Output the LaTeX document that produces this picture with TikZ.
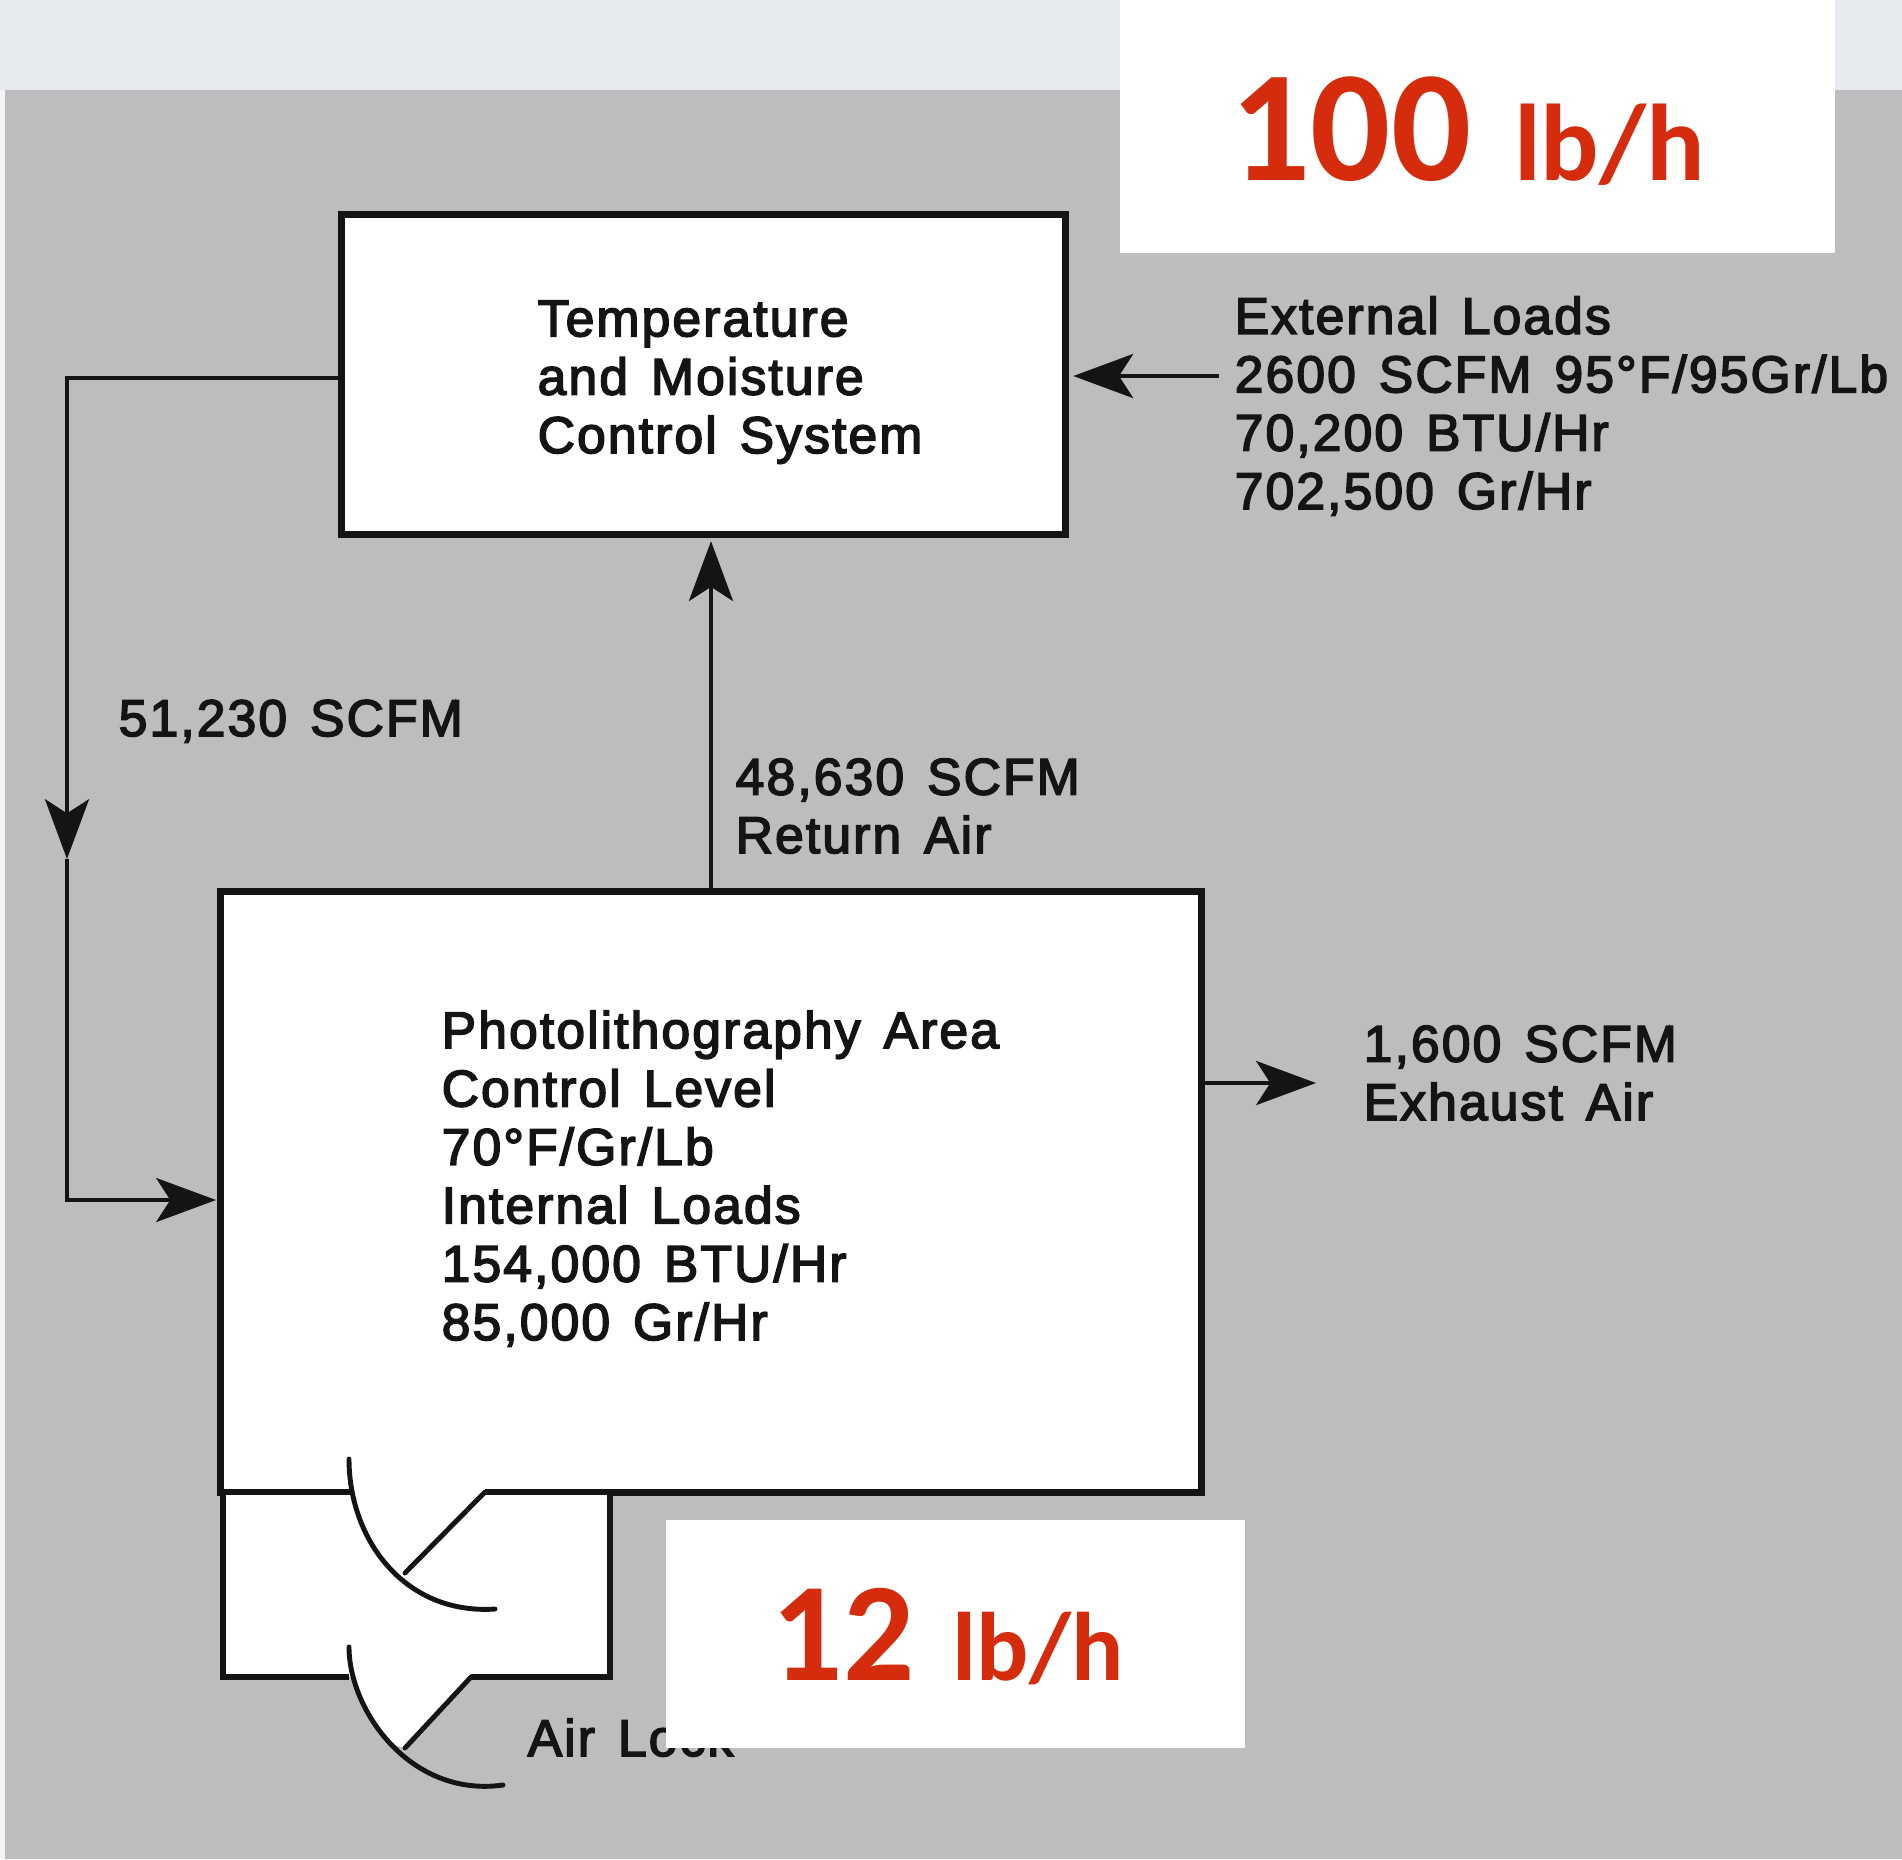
\documentclass[tikz,border=0pt]{standalone}
\usepackage{fontspec}
\setmainfont[LetterSpace=4,WordSpace=1.4,FakeBold=3]{Liberation Sans}
\newfontfamily\calloutfont{Carlito}
\usetikzlibrary{arrows.meta}
\definecolor{pagegrey}{HTML}{BDBDBF}
\definecolor{bandgrey}{HTML}{E6E9ED}
\definecolor{calloutred}{HTML}{D42C0C}
\definecolor{inkblack}{HTML}{141414}
\tikzset{
  roombox/.style={draw=inkblack, line width=2pt, fill=white, inner sep=0pt},
  calloutbox/.style={fill=white, inner sep=0pt},
  flow/.style={draw=inkblack, line width=1.3pt},
  wall/.style={draw=inkblack, line width=1.9pt},
  door/.style={draw=inkblack, line width=1.4pt, line cap=round},
  label/.style={align=left, anchor=base west, inner sep=0pt, text=inkblack,
    font=\fontsize{14.7}{16.6}\selectfont},
  calloutnum/.style={anchor=base west, inner sep=0pt, text=calloutred}
}
\begin{document}
\begin{tikzpicture}[x=0.01cm, y=-0.01cm,
    >={Stealth[length=17pt, width=12.5pt, inset=4pt]}]
  \useasboundingbox (0,0) rectangle (1902,1859);
  % page and scanned grey
  \fill[white!96!black] (0,0) rectangle (1902,1859);
  \fill[bandgrey] (0,0) rectangle (1902,90);
  \fill[pagegrey] (5,90) rectangle (1902,1859);

  % Main boxes
  \node[roombox, minimum width=7.23cm, minimum height=3.19cm] (tempbox)
    at (703.5,374.5) {};
  \node[roombox, minimum width=9.80cm, minimum height=6.00cm] (photobox)
    at (711,1192) {};

  % Air lock
  \fill[white] (223,1492) rectangle (610,1677);
  \fill[white] (351,1677) -- (356,1687) -- (365,1707) -- (391,1744)
    -- (405,1748) -- (471,1677) -- cycle;
  \fill[white] (349,1480) rectangle (485,1504);
  \draw[wall] (350,1492) -- (223,1492) -- (223,1677) -- (349,1677);
  \draw[wall] (471,1677) -- (610,1677) -- (610,1492) -- (485,1492);
  \draw[door] (349,1459) .. controls (349,1540) and (405,1615) .. (495,1609);
  \draw[door] (485,1492) -- (405,1573);
  \draw[door] (349,1647) .. controls (349,1710) and (410,1798) .. (503,1785);
  \draw[door] (471,1677) -- (405,1748);

  % Connector end points
  \coordinate (tempout) at (342,378);
  \coordinate (leftdrop) at (67,859);
  \coordinate (photoin) at (216,1200);
  \coordinate (extin) at (1219,376);
  \coordinate (exhaustout) at (1316,1083);

  % Connectors
  \draw[flow, ->] (tempout) -| (leftdrop);
  \draw[flow, ->] (leftdrop) |- (photoin);
  \draw[flow, ->, shorten >=1pt] (photobox.north) -- (photobox.north |- tempbox.south);
  \draw[flow, ->, shorten >=1.3pt] (extin) -- (tempbox.east |- extin);
  \draw[flow, ->] (photobox.east |- exhaustout) -- (exhaustout);

  % Labels
  \node[label] (templabel) at (537,453)
    {Temperature\\and Moisture\\Control System};
  \node[label] (extlabel) at (1234,509)
    {External Loads\\2600 SCFM 95°F/95Gr/Lb\\70,200 BTU/Hr\\702,500 Gr/Hr};
  \node[label] (supplylabel) at (118,736) {51,230 SCFM};
  \node[label] (returnlabel) at (735,853) {48,630 SCFM\\Return Air};
  \node[label] (photolabel) at (441,1340)
    {Photolithography Area\\Control Level\\70°F/Gr/Lb\\Internal Loads\\154,000 BTU/Hr\\85,000 Gr/Hr};
  \node[label] (exhaustlabel) at (1363,1120) {1,600 SCFM\\Exhaust Air};
  \node[label] (airlocklabel) at (527,1756) {Air Lock};

  % Red callouts
  \node[calloutbox, minimum width=7.15cm, minimum height=2.53cm] (topcallout)
    at (1477.5,126.5) {};
  \node[calloutbox, minimum width=5.79cm, minimum height=2.28cm] (lowcallout)
    at (955.5,1634) {};
  \node[calloutnum] (toptext) at (1230,180)
    {\calloutfont\bfseries\fontsize{45}{49}\selectfont 100\hspace{0.27em}\fontsize{31}{35}\selectfont lb/h};
  \node[calloutnum] (lowtext) at (771,1680)
    {\calloutfont\bfseries\fontsize{40}{44}\selectfont 12\hspace{0.275em}\fontsize{27.7}{31}\selectfont lb/h};
\end{tikzpicture}
\end{document}
